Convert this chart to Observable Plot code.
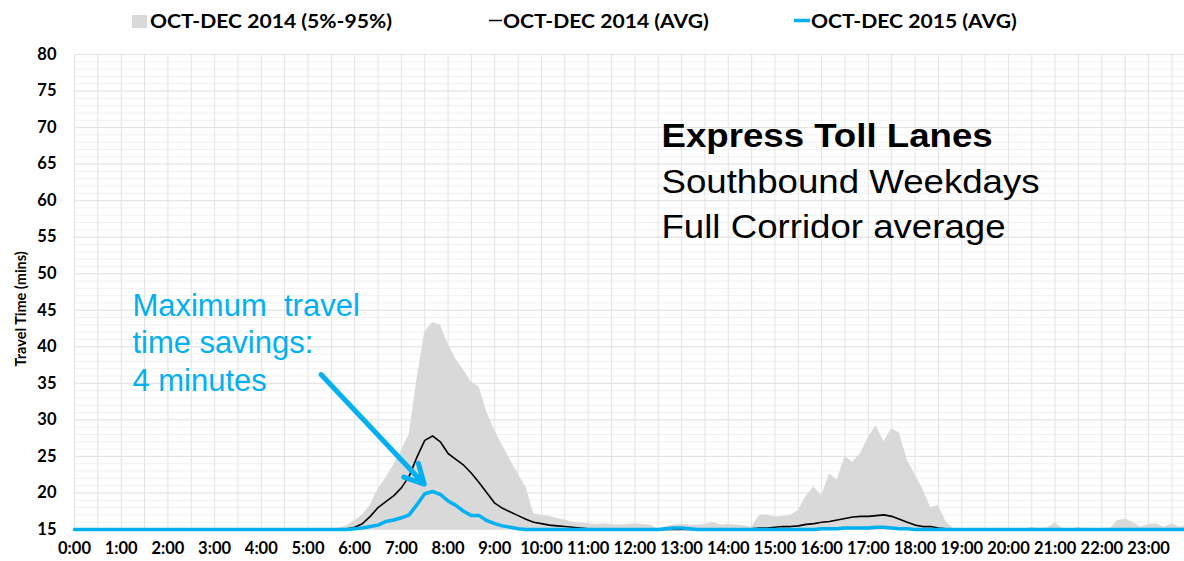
<!DOCTYPE html>
<html>
<head>
<meta charset="utf-8">
<script src="https://cdn.jsdelivr.net/npm/d3@7"></script>
<script src="https://cdn.jsdelivr.net/npm/@observablehq/plot@0.6"></script>
<style>
  html, body { margin: 0; padding: 0; background: #fff; overflow: hidden; }
  #chart svg { display: block; }
</style>
</head>
<body>
<div id="chart"></div>
<script>
// ---- Data: 10-minute samples, one row of six values per hour (0:00 .. 23:50) ----
const stepsPerHour = 6;

// OCT-DEC 2014, 95th percentile travel time (mins); 5th percentile sits on the 15-min floor
const p95_2014 = [
  15, 15, 15, 15, 15, 15,            // 0:00
  15, 15, 15, 15, 15, 15,            // 1:00
  15, 15, 15, 15, 15, 15,            // 2:00
  15, 15, 15, 15, 15, 15,            // 3:00
  15, 15, 15, 15, 15, 15,            // 4:00
  15, 15, 15, 15.1, 15.2, 15.5,      // 5:00
  16.2, 17.0, 18.3, 20.5, 22.0, 23.8,// 6:00
  25.8, 28.0, 35.5, 42.0, 43.3, 43.0,// 7:00
  40.4, 38.3, 36.8, 35.2, 34.5, 31.0,// 8:00
  28.5, 26.5, 24.5, 22.6, 20.8, 17.2,// 9:00
  16.9, 16.8, 16.5, 16.3, 16.0, 15.9,// 10:00
  15.8, 15.7, 15.8, 15.7, 15.6, 15.7,// 11:00
  15.8, 15.7, 15.6, 15.1, 15.4, 15.6,// 12:00
  15.7, 15.6, 15.6, 15.7, 16.0, 15.6,// 13:00
  15.7, 15.6, 15.5, 15.3, 16.9, 17.0,// 14:00
  16.7, 16.8, 16.9, 17.6, 19.5, 20.8,// 15:00
  19.6, 22.6, 21.8, 25.0, 24.2, 25.4,// 16:00
  27.6, 29.2, 27.0, 28.8, 28.2, 24.5,// 17:00
  22.5, 20.5, 18.0, 18.3, 16.0, 15.1,// 18:00
  15, 15, 15, 15, 15, 15,            // 19:00
  15, 15, 15, 15.3, 15.1, 15.2,      // 20:00
  15.9, 15.1, 15.0, 15.3, 15.0, 15.0,// 21:00
  15.0, 15.0, 16.2, 16.4, 16.0, 15.3,// 22:00
  15.7, 15.8, 15.3, 15.8, 15.3, 15.6 // 23:00
];

// OCT-DEC 2014 average travel time (mins)
const avg_2014 = [
  15, 15, 15, 15, 15, 15,
  15, 15, 15, 15, 15, 15,
  15, 15, 15, 15, 15, 15,
  15, 15, 15, 15, 15, 15,
  15, 15, 15, 15, 15, 15,
  15, 15, 15, 15, 15, 15.1,
  15.3, 15.8, 16.8, 18.0, 18.8, 19.6,
  20.7, 22.3, 24.9, 27.2, 27.8, 27.0,
  25.4, 24.6, 23.8, 22.7, 21.4, 20.0,
  18.6, 17.9, 17.4, 16.9, 16.4, 16.0,
  15.8, 15.6, 15.5, 15.4, 15.3, 15.2,
  15.1, 15, 15, 15, 15, 15,
  15, 15, 15, 15, 15, 15,
  15, 15, 15, 15, 15, 15,
  15, 15, 15, 15.1, 15.2, 15.2,
  15.3, 15.4, 15.4, 15.5, 15.7, 15.8,
  16.0, 16.1, 16.3, 16.5, 16.7, 16.8,
  16.8, 16.9, 17.0, 16.8, 16.4, 16.0,
  15.6, 15.4, 15.4, 15.2, 15.1, 15.0,
  15, 15, 15, 15, 15, 15,
  15, 15, 15, 15, 15, 15,
  15, 15, 15, 15, 15, 15,
  15, 15, 15, 15, 15, 15,
  15, 15, 15, 15, 15, 15
];

// OCT-DEC 2015 average travel time (mins)
const avg_2015 = [
  15, 15, 15, 15, 15, 15,
  15, 15, 15, 15, 15, 15,
  15, 15, 15, 15, 15, 15,
  15, 15, 15, 15, 15, 15,
  15, 15, 15, 15, 15, 15,
  15, 15, 15, 15, 15, 15,
  15.1, 15.2, 15.4, 15.6, 16.1, 16.3,
  16.6, 17.0, 18.4, 19.9, 20.2, 19.8,
  18.9, 18.3, 17.5, 16.9, 16.9, 16.2,
  15.8, 15.5, 15.3, 15.1, 15, 15,
  15, 15, 15, 15, 15, 15,
  15, 15, 15, 15, 15, 15,
  15, 15, 15, 15, 15.1, 15.2,
  15.2, 15.1, 15, 15, 15, 15,
  15, 15, 15, 15, 15, 15,
  15, 15, 15, 15, 15, 15,
  15.1, 15.1, 15.1, 15.2, 15.2, 15.2,
  15.2, 15.3, 15.3, 15.2, 15.1, 15.1,
  15, 15, 15, 15, 15, 15,
  15, 15, 15, 15, 15, 15,
  15, 15, 15, 15, 15, 15,
  15, 15, 15, 15, 15, 15,
  15, 15, 15, 15, 15, 15,
  15, 15, 15, 15, 15, 15
];

// Axis ticks
const hourTicks = d3.range(0, 24);                 // 0:00 .. 23:00
const yTicks = d3.range(15, 81, 5);                // 15 .. 80
const yMinor = d3.range(15, 81, 1);
const xGrid = d3.range(0, 24, 0.5);                // half-hour grid

// Legend entries
const legendLabels = ["OCT-DEC 2014 (5%-95%)", "OCT-DEC 2014 (AVG)", "OCT-DEC 2015 (AVG)"];
const colors = { band: "#d9d9d9", avg14: "#000000", avg15: "#00b0f0" };

// Annotation text
const yTitle = "Travel Time (mins)";
const titleLines = ["Express Toll Lanes", "Southbound Weekdays", "Full Corridor average"];
const noteLines = ["Maximum  travel", "time savings:", "4 minutes"];

// ---- Build table ----
const rows = p95_2014.map((v, i) => ({
  t: i / stepsPerHour,
  p95: v,
  avg14: avg_2014[i],
  avg15: avg_2015[i]
}));

// ---- Legend (SVG above the chart) ----
const legendH = 36;
const legend = d3.create("svg").attr("width", 1184).attr("height", legendH)
  .style("display", "block")
  .style("font-family", "Lato, 'Open Sans', sans-serif")
  .style("font-weight", "bold")
  .style("font-size", "19.5px");
legend.append("rect").attr("x", 132).attr("y", 15).attr("width", 15).attr("height", 13).attr("fill", colors.band);
const lt1 = legend.append("text").attr("x", 150).attr("y", 28).text(legendLabels[0]);
legend.append("line").attr("x1", 489).attr("x2", 502).attr("y1", 20.5).attr("y2", 20.5).attr("stroke", colors.avg14).attr("stroke-width", 1.5);
const lt2 = legend.append("text").attr("x", 503).attr("y", 28).text(legendLabels[1]);
legend.append("line").attr("x1", 794).attr("x2", 810).attr("y1", 20.5).attr("y2", 20.5).attr("stroke", colors.avg15).attr("stroke-width", 3.5);
const lt3 = legend.append("text").attr("x", 811).attr("y", 28).text(legendLabels[2]);
document.getElementById("chart").append(legend.node());

// the source picture is slightly stretched horizontally: widen legend glyphs alike
{
  const w1 = lt1.node().getComputedTextLength();
  const f = 242 / w1;
  for (const t of [lt1, lt2, lt3]) {
    const w = t.node().getComputedTextLength();
    t.attr("textLength", w * f).attr("lengthAdjust", "spacingAndGlyphs");
  }
}

// ---- Chart ----
const annFont = "'Liberation Sans', Arial, sans-serif";
const chart = Plot.plot({
  width: 1184,
  height: 525,
  marginTop: 18,
  marginBottom: 32,
  marginLeft: 74,
  marginRight: 0,
  style: { fontFamily: "Lato, 'Open Sans', sans-serif", fontSize: "16.5px", fontWeight: "bold", color: "#000", background: "#fff", overflow: "hidden" },
  x: { domain: [0, 23.77], ticks: hourTicks, tickFormat: h => `${h}:00`, tickSize: 0, tickPadding: 13, label: null },
  y: { domain: [15, 80], ticks: yTicks, tickSize: 0, tickPadding: 18, label: null },
  marks: [
    Plot.ruleY(yMinor, { stroke: "#f1f1f1", strokeWidth: 1 }),
    Plot.ruleX(xGrid, { stroke: "#e3e3e3", strokeWidth: 1 }),
    Plot.ruleY(yTicks, { stroke: "#e3e3e3", strokeWidth: 1 }),
    Plot.areaY(rows, { x: "t", y1: 15, y2: "p95", fill: colors.band }),
    Plot.lineY(rows, { x: "t", y: "avg14", stroke: colors.avg14, strokeWidth: 1.6 }),
    Plot.lineY(rows, { x: "t", y: "avg15", stroke: colors.avg15, strokeWidth: 3.5 }),
    // y axis title, placed left of the tick labels
    Plot.text([yTitle], { x: -1.14, y: 45.2, text: d => d, rotate: -90, fontSize: 14.5, fontWeight: "bold", fill: "#000" }),
    // annotation arrow (data coordinates)
    Plot.arrow([{ x1: 5.28, y1: 36.2, x2: 7.49, y2: 21.2 }], {
      x1: "x1", y1: "y1", x2: "x2", y2: "y2",
      stroke: colors.avg15, strokeWidth: 5, headLength: 6.5, headAngle: 55
    }),
    // annotation: title block
    Plot.text([titleLines[0]], { x: 12.57, y: 67.4, text: d => d, textAnchor: "start", lineAnchor: "bottom",
      fontSize: 33, fontWeight: "bold", fontFamily: annFont, fill: "#000" }),
    Plot.text([titleLines[1]], { x: 12.57, y: 61.1, text: d => d, textAnchor: "start", lineAnchor: "bottom",
      fontSize: 33, fontWeight: "normal", fontFamily: annFont, fill: "#000" }),
    Plot.text([titleLines[2]], { x: 12.57, y: 54.95, text: d => d, textAnchor: "start", lineAnchor: "bottom",
      fontSize: 33, fontWeight: "normal", fontFamily: annFont, fill: "#000" }),
    // annotation: savings note
    Plot.text(noteLines, { x: 1.24, y: (d, i) => [44.28, 39.22, 34.02][i], text: d => d, textAnchor: "start", lineAnchor: "bottom",
      fontSize: 31, fontWeight: "normal", fontFamily: annFont, fill: colors.avg15 })
  ]
});
document.getElementById("chart").append(chart);

// same horizontal stretch for the title block
d3.select(chart).selectAll("text").each(function () {
  if (!titleLines.includes(this.textContent)) return;
  const w = this.getComputedTextLength();
  d3.select(this).attr("textLength", w * 1.11).attr("lengthAdjust", "spacingAndGlyphs");
});
</script>
</body>
</html>
